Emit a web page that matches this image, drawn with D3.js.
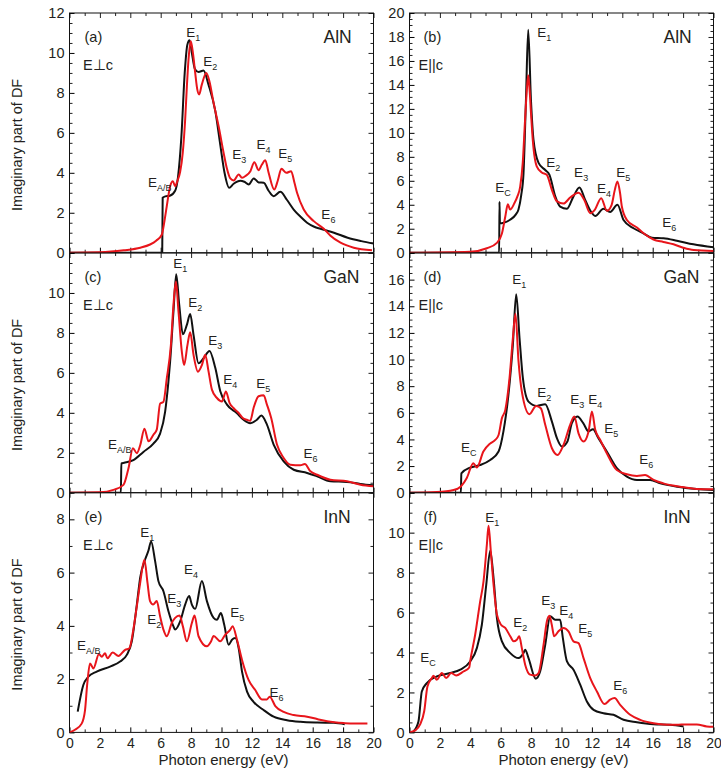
<!DOCTYPE html>
<html>
<head>
<meta charset="utf-8">
<script src="https://cdn.jsdelivr.net/npm/d3@7"></script>
<style>
  body { margin: 0; background: #fff; }
  svg text { font-family: "Liberation Sans", Arial, sans-serif; fill: #231f20; }
</style>
</head>
<body>
<div id="chart"></div>
<script>
// ---- data: [photon energy (eV), Im(DF)] ----
// black = one data set, red = the other

var alnPerpBlack = [[0,0],[6.1,0],[6.13,2.75],[6.3,2.82],[6.6,2.85],[6.95,3.1],[7.14,3.8],[7.36,5.8],[7.58,9.0],[7.75,10.4],[7.9,10.63],[8.05,10.0],[8.25,9.2],[8.49,9.05],[8.82,9.12],[9.15,8.4],[9.59,7.1],[9.92,5.4],[10.2,4.0],[10.5,3.25],[10.8,3.45],[11.24,3.6],[11.5,3.55],[11.79,3.42],[12.12,3.72],[12.45,3.52],[12.78,3.5],[13.1,3.1],[13.43,2.83],[13.87,3.05],[14.3,2.65],[14.75,2.16],[15.2,1.8],[15.63,1.5],[16.1,1.3],[16.51,1.2],[17.4,1.0],[18.3,0.75],[19.2,0.58],[20,0.46]];
var alnPerpRed = [[0,0],[2,0.02],[3.57,0.12],[4.66,0.25],[5.3,0.41],[5.7,0.6],[6.07,0.9],[6.25,1.6],[6.4,2.33],[6.62,3.33],[6.8,3.58],[6.95,3.33],[7.1,3.6],[7.28,4.05],[7.45,5.0],[7.61,6.67],[7.72,8.3],[7.83,9.67],[7.98,10.58],[8.12,10.0],[8.27,9.0],[8.4,8.2],[8.53,7.92],[8.7,8.4],[9.0,9.0],[9.2,8.6],[9.48,7.5],[9.81,6.33],[10.14,5.0],[10.36,4.2],[10.58,3.72],[10.8,3.62],[11.13,3.92],[11.35,3.75],[11.6,3.85],[11.9,4.08],[12.16,4.53],[12.44,4.13],[12.65,4.4],[12.88,4.63],[13.1,4.0],[13.47,3.16],[13.7,3.6],[13.94,4.2],[14.27,4.0],[14.58,4.08],[14.8,3.5],[14.97,3.0],[15.41,2.16],[16.07,1.58],[16.73,1.2],[17.17,0.85],[17.83,0.5],[18.7,0.25],[19.9,0.12]];

var alnParBlack = [[0,0],[5.9,0],[5.92,4.25],[5.95,2.45],[6.2,2.5],[6.62,2.75],[7.0,3.2],[7.17,3.6],[7.35,4.8],[7.5,6.6],[7.66,12.7],[7.81,18.6],[7.99,12.75],[8.16,9.4],[8.49,7.5],[8.93,6.9],[9.21,6.5],[9.59,4.7],[9.91,3.85],[10.36,3.67],[10.79,4.7],[11.18,5.45],[11.56,4.4],[11.9,3.5],[12.22,3.07],[12.76,3.67],[13.2,3.4],[13.68,4.0],[14.08,2.73],[14.74,2.04],[15.39,1.62],[15.95,1.25],[16.71,1.2],[17.59,1.0],[18.68,0.7],[20,0.45]];
var alnParRed = [[0,0],[4.0,0.08],[5.09,0.37],[5.75,0.82],[6.08,1.6],[6.3,3.0],[6.47,4.05],[6.62,3.6],[6.89,4.1],[7.1,4.7],[7.28,5.5],[7.45,7.5],[7.6,11.0],[7.72,13.6],[7.81,14.8],[7.9,13.6],[8.0,11.5],[8.11,9.4],[8.37,7.2],[8.7,6.7],[9.03,6.5],[9.36,5.27],[9.69,4.3],[10.13,4.1],[10.57,4.6],[11.12,5.0],[11.5,4.4],[11.89,3.3],[12.2,3.6],[12.61,4.55],[12.99,3.5],[13.3,4.0],[13.5,5.2],[13.68,5.95],[13.85,5.0],[13.97,3.85],[14.3,2.73],[14.96,2.1],[15.4,1.62],[16.05,1.1],[16.7,0.9],[17.37,0.7],[18.0,0.42],[18.7,0.22],[20,0.15]];

var ganPerpBlack = [[0,0],[3.38,0],[3.41,1.47],[3.6,1.5],[4.2,1.63],[4.86,2.04],[5.52,2.46],[5.96,2.96],[6.29,4.05],[6.5,5.5],[6.62,6.56],[6.84,9.07],[7.02,10.94],[7.22,9.4],[7.46,7.93],[7.72,8.4],[7.94,8.94],[8.16,7.9],[8.49,6.48],[8.82,6.73],[9.21,7.1],[9.59,6.25],[9.92,5.08],[10.36,4.41],[11.0,3.99],[11.45,3.65],[11.89,3.48],[12.33,3.65],[12.62,3.86],[12.99,3.41],[13.43,2.41],[14.09,1.57],[14.75,1.15],[15.63,0.99],[16.29,0.82],[17.16,0.57],[18.26,0.54],[19.14,0.44],[20,0.37]];
var ganPerpRed = [[0,0],[2.0,0.02],[2.89,0.14],[3.55,0.39],[3.88,1.22],[4.17,2.23],[4.43,1.98],[4.66,2.4],[4.93,3.2],[5.2,2.57],[5.52,2.9],[5.74,3.16],[5.96,4.46],[6.18,4.55],[6.4,5.72],[6.67,7.39],[6.84,9.4],[7.0,10.57],[7.17,9.07],[7.39,7.06],[7.54,6.39],[7.76,7.39],[7.94,8.03],[8.16,6.9],[8.45,6.06],[8.71,6.39],[8.93,6.9],[9.15,6.06],[9.37,5.16],[9.7,4.74],[10.03,4.57],[10.29,5.07],[10.53,4.5],[10.79,4.24],[11.13,3.99],[11.4,3.74],[11.67,3.65],[11.89,3.6],[12.11,4.24],[12.44,4.83],[12.77,4.88],[12.99,4.41],[13.27,3.74],[13.65,2.41],[14.09,1.74],[14.53,1.4],[15.19,1.37],[15.48,1.44],[15.85,1.07],[16.29,0.9],[17.16,0.65],[18.26,0.57],[19.14,0.4],[20,0.32]];

var ganParBlack = [[0,0],[3.38,0],[3.41,1.46],[3.99,1.88],[4.65,2.08],[5.31,2.46],[5.86,3.09],[6.18,4.6],[6.51,7.36],[6.8,11.1],[7.02,14.9],[7.24,11.6],[7.46,8.6],[7.83,6.84],[8.38,6.52],[8.93,6.64],[9.37,5.34],[9.7,4.09],[10.03,3.46],[10.39,3.84],[10.68,5.22],[11.05,5.72],[11.43,5.22],[11.78,4.6],[12.07,4.77],[12.43,4.09],[12.98,3.09],[13.64,1.84],[14.3,1.21],[14.96,0.96],[15.83,0.96],[16.5,0.7],[17.6,0.45],[18.9,0.28],[20,0.2]];
var ganParRed = [[0,0],[1.8,0.05],[2.9,0.2],[3.38,0.47],[3.77,1.1],[4.2,2.22],[4.43,1.89],[4.86,3.09],[5.31,3.7],[5.64,3.96],[5.86,4.33],[6.08,5.6],[6.3,6.2],[6.58,8.6],[6.8,11.6],[6.97,13.43],[7.17,9.9],[7.39,7.6],[7.89,5.9],[8.33,6.52],[8.64,6.34],[8.93,5.1],[9.37,3.34],[9.74,2.84],[10.13,3.59],[10.57,5.1],[10.84,5.72],[11.12,4.46],[11.45,3.84],[11.78,4.6],[12.0,6.1],[12.22,4.72],[12.55,3.96],[12.98,2.96],[13.64,1.7],[14.3,1.39],[14.96,1.26],[15.5,1.33],[16.06,0.96],[16.7,0.7],[17.8,0.45],[18.9,0.28],[20,0.25]];

var innPerpBlack = [[0.54,0.78],[0.91,1.78],[1.24,2.09],[1.79,2.28],[2.67,2.47],[3.33,2.66],[3.77,2.91],[4.1,3.42],[4.43,4.8],[4.65,5.81],[4.98,6.5],[5.19,6.82],[5.37,7.17],[5.63,6.44],[5.85,5.68],[6.18,5.3],[6.51,4.55],[6.84,3.98],[6.95,3.86],[7.28,4.17],[7.61,4.8],[7.87,5.12],[8.05,4.8],[8.27,4.64],[8.71,5.68],[9.04,4.93],[9.48,4.3],[9.7,4.23],[9.96,4.48],[10.18,4.04],[10.47,3.29],[10.69,3.48],[10.91,3.54],[11.13,3.16],[11.35,2.28],[11.68,1.53],[12.11,1.15],[12.77,0.84],[13.43,0.59],[14.31,0.46],[15.19,0.4],[16.29,0.37],[17.38,0.36],[18.11,0.31]];
var innPerpRed = [[0,0],[0.36,0.1],[0.8,0.33],[1.02,0.83],[1.17,1.84],[1.35,2.59],[1.57,2.4],[1.94,2.94],[2.12,2.84],[2.34,2.97],[2.49,2.78],[2.84,3.0],[3.22,2.87],[3.66,3.1],[3.94,3.16],[4.2,3.86],[4.43,4.74],[4.65,5.62],[4.93,6.48],[5.13,5.62],[5.3,4.93],[5.5,4.8],[5.74,4.93],[5.96,4.36],[6.18,3.86],[6.4,3.61],[6.73,4.11],[6.95,4.3],[7.24,4.39],[7.46,3.98],[7.72,3.42],[8.05,4.11],[8.23,4.39],[8.49,3.61],[9.04,3.23],[9.3,3.4],[9.48,3.62],[9.92,3.42],[10.25,3.67],[10.58,3.86],[10.73,3.99],[11.02,3.48],[11.35,2.72],[11.78,1.97],[12.22,1.59],[12.66,1.24],[12.99,1.24],[13.17,1.34],[13.54,0.99],[14.09,0.77],[14.75,0.65],[15.63,0.59],[16.29,0.5],[16.95,0.42],[18.05,0.35],[18.71,0.33],[19.6,0.33]];

var innParBlack = [[0.26,0.05],[0.59,0.55],[0.81,2.05],[1.14,2.47],[1.8,2.8],[2.68,2.97],[3.34,3.14],[3.99,3.55],[4.43,4.22],[4.76,5.39],[5.05,7.4],[5.31,9.1],[5.53,7.73],[5.75,5.73],[6.08,4.56],[6.63,3.97],[7.17,3.72],[7.5,3.97],[7.61,4.14],[7.83,3.72],[8.31,2.69],[8.6,3.06],[8.93,4.39],[9.26,5.81],[9.58,5.64],[9.91,5.64],[10.09,4.72],[10.36,3.55],[10.79,3.14],[11.23,2.39],[11.67,1.55],[12.11,1.13],[12.76,0.96],[13.42,0.88],[14.08,0.63],[14.96,0.51],[16.05,0.41],[17.15,0.38],[18.03,0.3]];
var innParRed = [[0,0],[0.37,0.1],[0.7,0.4],[0.97,1.07],[1.18,2.3],[1.47,2.72],[1.58,2.84],[1.8,2.64],[2.13,2.97],[2.41,2.72],[2.74,2.97],[3.07,2.85],[3.55,3.05],[3.93,3.25],[3.99,3.55],[4.32,4.89],[4.65,6.56],[4.87,7.56],[5.09,9.4],[5.2,10.35],[5.35,9.07],[5.53,7.4],[5.75,5.9],[6.02,5.39],[6.3,5.23],[6.63,4.81],[6.85,4.56],[7.06,4.64],[7.22,4.81],[7.39,4.22],[7.61,3.39],[7.94,2.89],[8.27,2.85],[8.49,2.97],[8.82,4.39],[9.04,5.56],[9.21,5.84],[9.36,5.39],[9.52,4.81],[9.8,5.06],[10.13,5.23],[10.46,5.06],[10.79,4.56],[11.12,4.47],[11.45,3.72],[11.89,2.72],[12.33,2.05],[12.83,1.42],[13.2,1.64],[13.49,1.72],[13.86,1.38],[14.52,0.88],[15.18,0.63],[16.06,0.46],[16.7,0.4],[17.57,0.38],[18.23,0.4],[18.9,0.4],[19.56,0.3],[20,0.28]];

// critical point labels: [subscript, energy, value at baseline]
var alnPerpLabels = [["A/B",5.17,3.3],["1",7.68,10.8],["2",8.8,9.35],["3",10.7,4.67],["4",12.3,5.17],["5",13.74,4.72],["6",16.57,1.67]];
var alnParLabels  = [["C",5.64,5.07],["1",8.4,18.0],["2",8.99,7.16],["3",10.83,6.32],["4",12.34,4.99],["5",13.6,6.32],["6",16.63,2.15]];
var ganPerpLabels = [["A/B",2.54,2.19],["1",6.82,11.27],["2",7.81,9.31],["3",9.13,7.41],["4",10.12,5.45],["5",12.29,5.25],["6",15.39,1.74]];
var ganParLabels  = [["C",3.38,3.06],["1",6.76,15.7],["2",8.4,7.2],["3",10.57,6.67],["4",11.76,6.67],["5",12.81,4.49],["6",15.11,2.16]];
var innPerpLabels = [["A/B",0.49,3.1],["1",4.65,7.32],["2",5.11,4.08],["3",6.43,4.87],["4",7.54,5.96],["5",10.58,4.34],["6",13.15,1.33]];
var innParLabels  = [["C",0.7,3.52],["1",4.98,10.53],["2",6.82,5.27],["3",8.66,6.37],["4",9.85,5.88],["5",11.1,4.97],["6",13.4,2.12]];

var panelLetters = ["(a)","(b)","(c)","(d)","(e)","(f)"];
var materials = ["AlN","AlN","GaN","GaN","InN","InN"];
var polarizations = ["E\u22A5c","E||c","E\u22A5c","E||c","E\u22A5c","E||c"];
var yMaxes = [12, 20, 12, 18, 9, 12];
var yTickLabels = [
  [0,2,4,6,8,10,12],
  [0,2,4,6,8,10,12,14,16,18,20],
  [0,2,4,6,8,10],
  [0,2,4,6,8,10,12,14,16],
  [0,2,4,6,8],
  [0,2,4,6,8,10]
];
var yMinorSteps = [0.5, 0.5, 0.5, 0.5, 1, 0.5];
var xTickLabels = [0,2,4,6,8,10,12,14,16,18,20];

var blackSets = [alnPerpBlack, alnParBlack, ganPerpBlack, ganParBlack, innPerpBlack, innParBlack];
var redSets = [alnPerpRed, alnParRed, ganPerpRed, ganParRed, innPerpRed, innParRed];
var labelSets = [alnPerpLabels, alnParLabels, ganPerpLabels, ganParLabels, innPerpLabels, innParLabels];

// ---- layout ----
var width = 721, height = 771;
var colX = [69.5, 409.5], plotW = 304;
var rowY = [13, 253, 492.7], plotH = 239.7;
var black = "#111", red = "#e8151b";

var svg = d3.select("#chart").append("svg")
  .attr("width", width)
  .attr("height", height);

function tickGroup(g, axis, transform) {
  g.append("g")
    .attr("transform", transform)
    .call(axis)
    .call(function(s) { s.select(".domain").remove(); })
    .selectAll("line").attr("stroke", "#222");
}

blackSets.forEach(function(_, i) {
  var col = i % 2, row = Math.floor(i / 2);
  var g = svg.append("g").attr("transform", "translate(" + colX[col] + "," + rowY[row] + ")");

  var x = d3.scaleLinear().domain([0, 20]).range([0, plotW]);
  var y = d3.scaleLinear().domain([0, yMaxes[i]]).range([plotH, 0]);

  var minorX = d3.range(0, 21, 1).filter(function(v) { return v % 2 !== 0; });
  var minorY = d3.range(0, yMaxes[i] + 0.001, yMinorSteps[i]).filter(function(v) { return v % 2 !== 0; });
  var majorY = d3.range(0, yMaxes[i] + 0.001, 2);

  // inward ticks on all four sides
  tickGroup(g, d3.axisBottom(x).tickValues(minorX).tickSize(-3).tickFormat(""), "translate(0," + plotH + ")");
  tickGroup(g, d3.axisTop(x).tickValues(minorX).tickSize(-3).tickFormat(""), "translate(0,0)");
  tickGroup(g, d3.axisTop(x).tickValues(xTickLabels).tickSize(-5).tickFormat(""), "translate(0,0)");
  tickGroup(g, d3.axisLeft(y).tickValues(minorY).tickSize(-3).tickFormat(""), "translate(0,0)");
  tickGroup(g, d3.axisRight(y).tickValues(minorY).tickSize(-3).tickFormat(""), "translate(" + plotW + ",0)");
  tickGroup(g, d3.axisRight(y).tickValues(majorY).tickSize(-5).tickFormat(""), "translate(" + plotW + ",0)");

  // labelled axes
  var yAxis = d3.axisLeft(y).tickValues(majorY).tickSize(-5).tickPadding(5)
    .tickFormat(function(v) { return yTickLabels[i].indexOf(v) >= 0 ? v : ""; });
  var yg = g.append("g").call(yAxis);
  yg.select(".domain").remove();
  yg.selectAll("text").style("font-size", "14.5px").attr("fill", "#231f20");

  var xAxis = d3.axisBottom(x).tickValues(xTickLabels).tickSize(-5).tickPadding(6)
    .tickFormat(row === 2 ? d3.format("d") : "");
  var xg = g.append("g").attr("transform", "translate(0," + plotH + ")").call(xAxis);
  xg.select(".domain").remove();
  xg.selectAll("text").style("font-size", "14px").attr("fill", "#231f20");

  // frame
  g.append("rect")
    .attr("width", plotW).attr("height", plotH)
    .attr("fill", "none").attr("stroke", "#111").attr("stroke-width", 1);

  // curves
  g.append("clipPath").attr("id", "clip" + i)
    .append("rect").attr("width", plotW).attr("height", plotH);

  var line = d3.line()
    .x(function(d) { return x(d[0]); })
    .y(function(d) { return y(d[1]); })
    .curve(d3.curveMonotoneX);

  g.append("path").datum(blackSets[i])
    .attr("clip-path", "url(#clip" + i + ")")
    .attr("d", line).attr("fill", "none")
    .attr("stroke", black).attr("stroke-width", 2).attr("stroke-linejoin", "round");

  g.append("path").datum(redSets[i])
    .attr("clip-path", "url(#clip" + i + ")")
    .attr("d", line).attr("fill", "none")
    .attr("stroke", red).attr("stroke-width", 2).attr("stroke-linejoin", "round");

  // critical point labels
  labelSets[i].forEach(function(l) {
    var t = g.append("text").attr("x", x(l[1])).attr("y", y(l[2])).style("font-size", "13.5px");
    t.append("tspan").text("E");
    t.append("tspan").attr("dy", 4).style("font-size", "9px").text(l[0]);
  });

  // panel annotations
  g.append("text").attr("x", col === 0 ? 15 : 14).attr("y", 29)
    .style("font-size", "14.5px").text(panelLetters[i]);
  g.append("text").attr("x", plotW - 50).attr("y", 30)
    .style("font-size", "17.5px").text(materials[i]);
  g.append("text").attr("x", col === 0 ? 13.5 : 9).attr("y", 57)
    .style("font-size", "14.5px").text(polarizations[i]);

  if (col === 0) {
    svg.append("text")
      .attr("transform", "translate(17," + (rowY[row] + plotH / 2 + 12) + ") rotate(-90)")
      .attr("text-anchor", "middle")
      .attr("dy", "0.35em")
      .style("font-size", "14.5px")
      .text("Imaginary part of DF");
  }
  if (row === 2) {
    svg.append("text")
      .attr("x", colX[col] + plotW / 2 + 2)
      .attr("y", 765)
      .attr("text-anchor", "middle")
      .style("font-size", "15px")
      .text("Photon energy (eV)");
  }
});
</script>
</body>
</html>
